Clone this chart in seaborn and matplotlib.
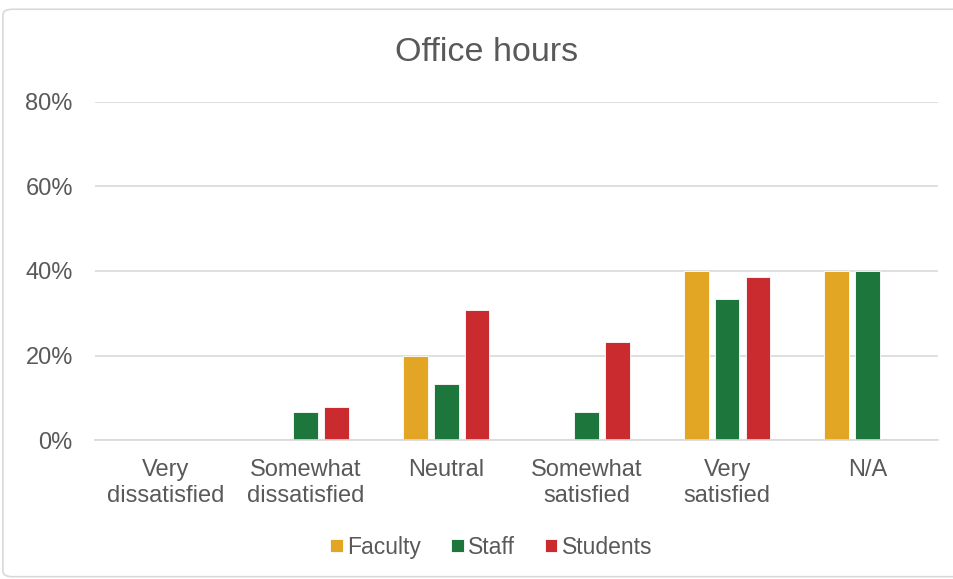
import pandas as pd
import numpy as np
import matplotlib.pyplot as plt
import seaborn as sns
from matplotlib.patches import FancyBboxPatch
from matplotlib.ticker import PercentFormatter

# data (share of respondents)
categories = ['Very\ndissatisfied', 'Somewhat\ndissatisfied', 'Neutral',
              'Somewhat\nsatisfied', 'Very\nsatisfied', 'N/A']
groups = ['Faculty', 'Staff', 'Students']
faculty = [0.0, 0.0, 0.20, 0.0, 0.40, 0.40]
staff = [0.0, 0.067, 0.133, 0.067, 0.333, 0.40]
students = [0.0, 0.077, 0.308, 0.231, 0.385, 0.0]
colors = ['#E3A624', '#1D763C', '#C92B2F']

df = pd.DataFrame({
    'Response': categories * 3,
    'Group': np.repeat(groups, len(categories)),
    'Share': faculty + staff + students,
})

sns.set_style('white')
plt.rcParams['font.family'] = ['Liberation Sans', 'DejaVu Sans']
text_col = '#595959'

fig = plt.figure(figsize=(9.54, 5.79), dpi=100)
ax = fig.add_axes([0.0996, 0.240, 0.8834, 0.584])

sns.barplot(data=df, x='Response', y='Share', hue='Group', order=categories,
            hue_order=groups, palette=colors, saturation=1, width=0.66, gap=0.2,
            edgecolor='white', linewidth=0.6, ax=ax)

ax.set_ylim(0, 0.8)
ax.set_yticks([0, 0.2, 0.4, 0.6, 0.8])
ax.yaxis.set_major_formatter(PercentFormatter(1.0, decimals=0))
ax.grid(axis='y', color='#D9D9D9', linewidth=1.2)
ax.set_axisbelow(True)
for s in ['left', 'right', 'top']:
    ax.spines[s].set_visible(False)
ax.spines['bottom'].set_color('#D9D9D9')
ax.spines['bottom'].set_linewidth(1.2)
ax.tick_params(axis='both', length=0, labelsize=17, labelcolor=text_col)
ax.tick_params(axis='y', pad=16)
ax.tick_params(axis='x', pad=13.5)
for lab in ax.get_xticklabels():
    lab.set_linespacing(1.23)
ax.set_xlabel('')
ax.set_ylabel('')

fig.text(0.51, 0.91, 'Office hours', ha='center', va='center', fontsize=24.5, color=text_col)

handles, labels = ax.get_legend_handles_labels()
ax.get_legend().remove()
fig.legend(handles, labels, loc='center', bbox_to_anchor=(0.515, 0.055), ncol=3,
           frameon=False, fontsize=16.5, labelcolor=text_col, handlelength=0.55,
           handleheight=0.55, handletextpad=0.2, columnspacing=1.3)

# light chart border
fig.patches.append(FancyBboxPatch((0.003, 0.004), 1.05, 0.98, boxstyle='round,pad=0,rounding_size=0.01',
                                  transform=fig.transFigure, fill=False,
                                  edgecolor='#D9D9D9', linewidth=1.2))

fig.savefig('out.png', dpi=100)
